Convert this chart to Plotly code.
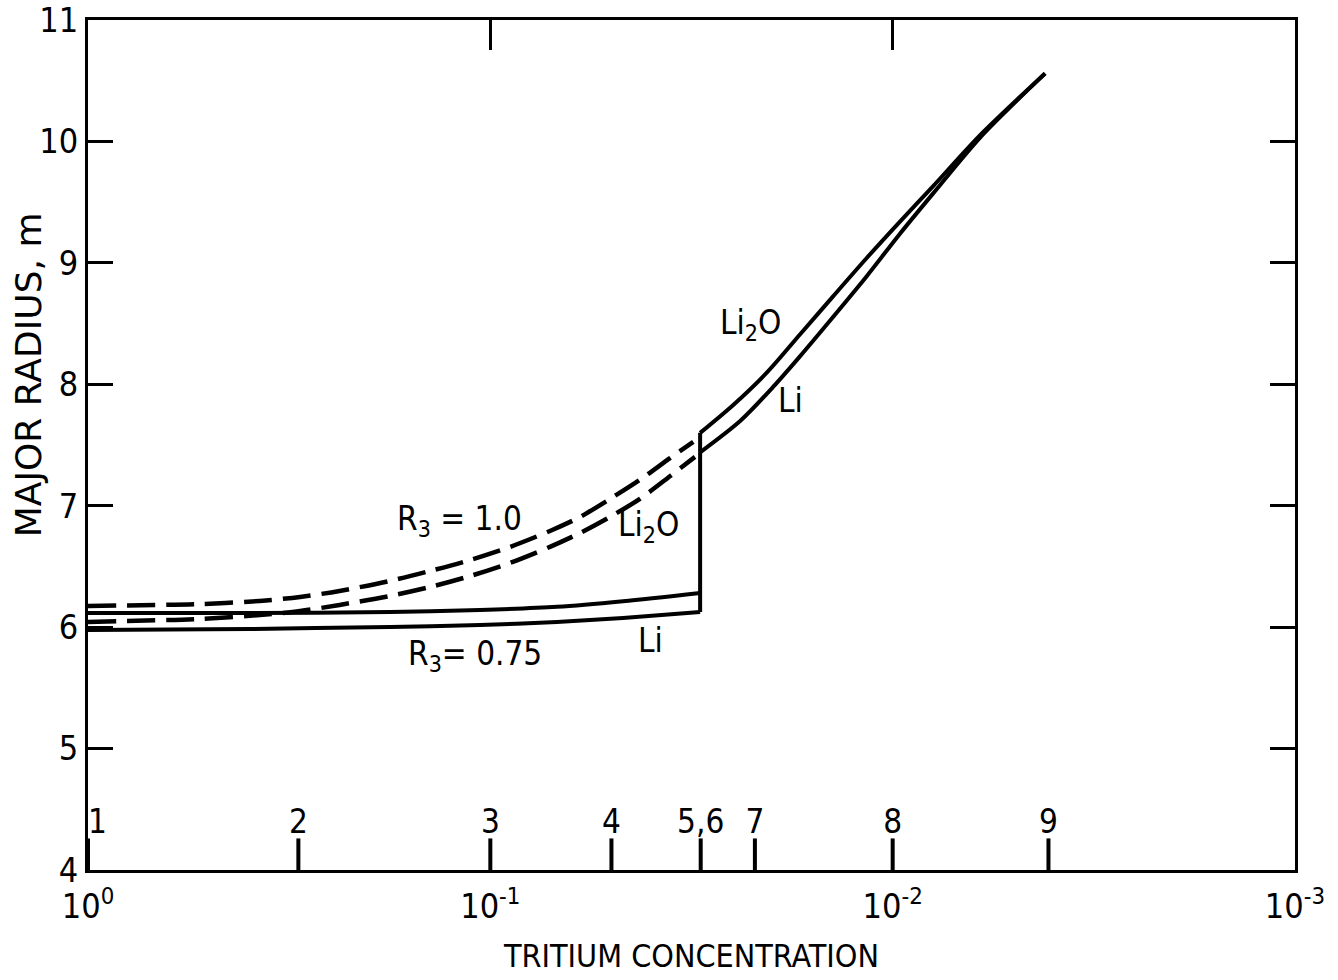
import plotly.graph_objects as go
import math

# ---------------- data ----------------
# R3 = 1.0 (dashed)
dash_li2o_x = [1.0, 0.527, 0.374, 0.297, 0.237, 0.1775, 0.141, 0.112, 0.0893,
               0.0711, 0.0598, 0.0504, 0.0425, 0.0357, 0.0313]
dash_li2o_y = [6.175, 6.19, 6.216, 6.249, 6.298, 6.381, 6.463, 6.554, 6.661,
               6.792, 6.908, 7.056, 7.213, 7.394, 7.526]
dash_li_x = [1.0, 0.527, 0.374, 0.297, 0.237, 0.1775, 0.141, 0.112, 0.0893,
             0.0711, 0.0598, 0.0504, 0.0425, 0.0357, 0.0310]
dash_li_y = [6.043, 6.068, 6.10, 6.133, 6.183, 6.257, 6.331, 6.422, 6.529,
             6.661, 6.776, 6.908, 7.056, 7.245, 7.402]

# R3 = 0.75 (solid), below the switch point
li2o_low_x = [1.0, 0.396, 0.1775, 0.106, 0.0683, 0.0468, 0.0301]
li2o_low_y = [6.117, 6.117, 6.125, 6.142, 6.168, 6.214, 6.282]
li_low_x = [1.0, 0.396, 0.1775, 0.106, 0.0683, 0.0468, 0.0301]
li_low_y = [5.977, 5.985, 6.002, 6.018, 6.043, 6.076, 6.125]

# switch point (vertical jump)
jump_x = 0.0301
jump_y = [6.125, 7.60]

# solid curves above the switch point
li2o_up_x = [0.0301, 0.0249, 0.0205, 0.0170, 0.0141, 0.0116, 0.00959, 0.00794, 0.00607, 0.00418]
li2o_up_y = [7.60, 7.83, 8.10, 8.41, 8.72, 9.04, 9.34, 9.63, 10.05, 10.56]
li_up_x = [0.0301, 0.0239, 0.0198, 0.0170, 0.0141, 0.0116, 0.00959, 0.00794, 0.00607, 0.00418]
li_up_y = [7.44, 7.70, 7.98, 8.23, 8.55, 8.89, 9.24, 9.57, 10.03, 10.56]

# numbered case markers along the bottom axis
marker_x = [1.0, 0.3, 0.1, 0.05, 0.03, 0.022, 0.01, 0.0041]
marker_labels = ["1", "2", "3", "4", "5,6", "7", "8", "9"]

x_tickvals = [1, 0.1, 0.01, 0.001]
x_ticktext = ["10<sup>0</sup>", "10<sup>-1</sup>", "10<sup>-2</sup>", "10<sup>-3</sup>"]
y_tickvals = [4, 5, 6, 7, 8, 9, 10, 11]

FONT = "DejaVu Sans Condensed, Liberation Sans Narrow, sans-serif"
WIDE = "DejaVu Sans, sans-serif"

fig = go.Figure()

def add(x, y, dash=None, width=4, shape="spline"):
    fig.add_trace(go.Scatter(x=x, y=y, mode="lines",
                             line=dict(color="black", width=width, dash=dash,
                                       shape=shape, smoothing=0.8),
                             hoverinfo="skip", showlegend=False))

DASH = "28px,11px"
add(dash_li2o_x, dash_li2o_y, dash=DASH, width=4.5)
add(dash_li_x, dash_li_y, dash=DASH, width=4.5)
add(li2o_low_x, li2o_low_y, width=4)
add(li_low_x, li_low_y, width=4)
add([jump_x, jump_x], jump_y, width=4, shape="linear")
add(li2o_up_x, li2o_up_y, width=4)
add(li_up_x, li_up_y, width=4)

# case markers: short vertical ticks rising from the bottom axis
mx, my = [], []
for v in marker_x:
    mx += [v, v, None]
    my += [4.0, 4.26, None]
fig.add_trace(go.Scatter(x=mx, y=my, mode="lines",
                         line=dict(color="black", width=4),
                         hoverinfo="skip", showlegend=False))
fig.add_trace(go.Scatter(x=marker_x, y=[4.37] * len(marker_x), mode="text",
                         text=marker_labels,
                         textposition=["middle right"] + ["middle center"] * (len(marker_x) - 1),
                         textfont=dict(family=FONT, size=33, color="black"),
                         hoverinfo="skip", showlegend=False))

def ann(text, lx, y, size=33):
    fig.add_annotation(x=lx, y=y, xref="x", yref="y", text=text, showarrow=False,
                       font=dict(family=FONT, size=size, color="black"))

ann("R<sub>3</sub> = 1.0", math.log10(0.119), 6.88)
ann("Li<sub>2</sub>O", math.log10(0.0405), 6.83)
ann("R<sub>3</sub>= 0.75", math.log10(0.109), 5.77)
ann("Li", math.log10(0.0401), 5.89)
ann("Li<sub>2</sub>O", math.log10(0.0226), 8.49)
ann("Li", math.log10(0.0179), 7.87)

fig.add_annotation(x=-0.0497, y=0.582, xref="paper", yref="paper",
                   xanchor="center", yanchor="middle",
                   text="MAJOR RADIUS, m", textangle=-90, showarrow=False,
                   font=dict(family=WIDE, size=36, color="black"))

fig.update_xaxes(type="log", range=[0, -3], autorange=False, automargin=False,
                 tickvals=x_tickvals, ticktext=x_ticktext,
                 ticks="inside", ticklen=30, tickwidth=2.5, tickcolor="black",
                 showline=True, linewidth=3, linecolor="black", mirror="ticks",
                 showgrid=False, zeroline=False, ticklabelstandoff=4,
                 ticklabeloverflow="allow",
                 tickfont=dict(family=FONT, size=34, color="black"),
                 title=dict(text="TRITIUM CONCENTRATION", standoff=20,
                            font=dict(family=FONT, size=32, color="black")))
fig.update_yaxes(range=[4, 11], autorange=False, automargin=False,
                 tickvals=y_tickvals,
                 ticks="inside", ticklen=25, tickwidth=2.5, tickcolor="black",
                 showline=True, linewidth=3, linecolor="black", mirror="ticks",
                 showgrid=False, zeroline=False, ticklabeloverflow="allow",
                 tickfont=dict(family=FONT, size=34, color="black"))

fig.update_layout(width=1338, height=980,
                  margin=dict(l=88, r=43, t=20, b=110, autoexpand=False),
                  paper_bgcolor="white", plot_bgcolor="white",
                  showlegend=False)

fig.write_html("out.html")
